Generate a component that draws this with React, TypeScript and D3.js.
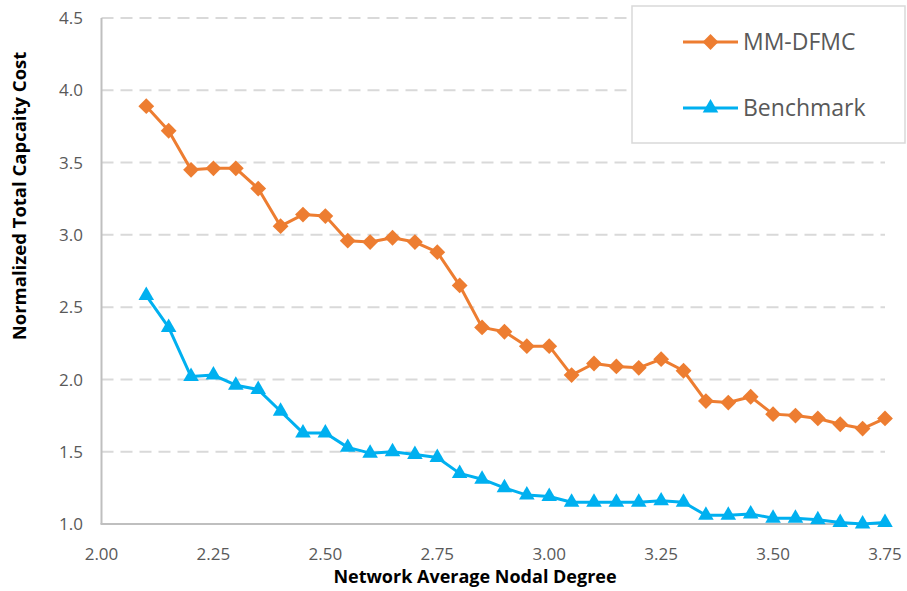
import React from 'react';
import * as d3 from 'd3';

const xValues = [2.10, 2.15, 2.20, 2.25, 2.30, 2.35, 2.40, 2.45, 2.50, 2.55, 2.60, 2.65, 2.70, 2.75, 2.80, 2.85, 2.90, 2.95, 3.00, 3.05, 3.10, 3.15, 3.20, 3.25, 3.30, 3.35, 3.40, 3.45, 3.50, 3.55, 3.60, 3.65, 3.70, 3.75];
const mmdfmc = [3.89, 3.72, 3.45, 3.46, 3.46, 3.32, 3.06, 3.14, 3.13, 2.96, 2.95, 2.98, 2.95, 2.88, 2.65, 2.36, 2.33, 2.23, 2.23, 2.03, 2.11, 2.09, 2.08, 2.14, 2.06, 1.85, 1.84, 1.88, 1.76, 1.75, 1.73, 1.69, 1.66, 1.73];
const benchmark = [2.58, 2.36, 2.02, 2.03, 1.96, 1.93, 1.78, 1.63, 1.63, 1.53, 1.49, 1.50, 1.48, 1.46, 1.35, 1.31, 1.25, 1.20, 1.19, 1.15, 1.15, 1.15, 1.15, 1.16, 1.15, 1.06, 1.06, 1.07, 1.04, 1.04, 1.03, 1.01, 1.00, 1.01];
const xTicks = [2.0, 2.25, 2.5, 2.75, 3.0, 3.25, 3.5, 3.75];
const yTicks = [1.0, 1.5, 2.0, 2.5, 3.0, 3.5, 4.0, 4.5];
const seriesNames = ['MM-DFMC', 'Benchmark'];
const xTitle = 'Network Average Nodal Degree';
const yTitle = 'Normalized Total Capcaity Cost';

const ORANGE = '#ED7D31';
const BLUE = '#00B0F0';
const FONT = '"Open Sans", sans-serif';

export default function App() {
  const W = 907, H = 591;
  const x = d3.scaleLinear().domain([2.0, 3.75]).range([101.5, 885]);
  const y = d3.scaleLinear().domain([1.0, 4.5]).range([524, 18]);

  const line = d3.line<number>().x((_, i) => x(xValues[i])).y((d) => y(d));
  const diamond = d3.symbol().type(d3.symbolSquare).size(125)();
  const triangle = d3.symbol().type(d3.symbolTriangle).size(105)();

  const legendX1 = 683, legendX2 = 738;
  const legendY = [42, 108];

  return (
    <svg width={W} height={H} style={{ position: 'absolute', left: 0, top: 0, background: '#fff' }} fontFamily={FONT}>
      {yTicks.filter((t) => t > 1.0).map((t) => (
        <line key={'g' + t} x1={x(2.0)} x2={x(3.75)} y1={y(t)} y2={y(t)} stroke="#d9d9d9" strokeWidth={2} strokeDasharray="12,7" />
      ))}
      <line x1={x(2.0)} x2={x(2.0)} y1={y(4.5)} y2={y(1.0)} stroke="#bfbfbf" strokeWidth={2} />
      <line x1={x(2.0) - 1} x2={x(3.75)} y1={y(1.0)} y2={y(1.0)} stroke="#bfbfbf" strokeWidth={2} />
      {yTicks.map((t) => (
        <text key={'y' + t} x={83} y={y(t)} dy="0.36em" textAnchor="end" fontSize={17} fill="#595959">{d3.format('.1f')(t)}</text>
      ))}
      {xTicks.map((t) => (
        <text key={'x' + t} x={x(t)} y={560} textAnchor="middle" fontSize={17} fill="#595959">{d3.format('.2f')(t)}</text>
      ))}
      <text x={475} y={583} textAnchor="middle" fontSize={18} fontWeight="bold" fill="#000">{xTitle}</text>
      <text transform={`translate(26,196) rotate(-90)`} textAnchor="middle" fontSize={18.5} fontWeight="bold" fill="#000">{yTitle}</text>
      <path d={line(mmdfmc) || ''} fill="none" stroke={ORANGE} strokeWidth={3} strokeLinejoin="round" />
      {mmdfmc.map((v, i) => (
        <path key={'m' + i} d={diamond || ''} transform={`translate(${x(xValues[i])},${y(v)}) rotate(45)`} fill={ORANGE} />
      ))}
      <path d={line(benchmark) || ''} fill="none" stroke={BLUE} strokeWidth={3} strokeLinejoin="round" />
      {benchmark.map((v, i) => (
        <path key={'b' + i} d={triangle || ''} transform={`translate(${x(xValues[i])},${y(v)})`} fill={BLUE} />
      ))}
      <rect x={632} y={6} width={273} height={137} fill="#fff" stroke="#d9d9d9" strokeWidth={1.5} />
      <line x1={legendX1} x2={legendX2} y1={legendY[0]} y2={legendY[0]} stroke={ORANGE} strokeWidth={3} />
      <path d={diamond || ''} transform={`translate(${(legendX1 + legendX2) / 2},${legendY[0]}) rotate(45)`} fill={ORANGE} />
      <text x={743} y={legendY[0]} dy="0.36em" fontSize={23} fill="#595959">{seriesNames[0]}</text>
      <line x1={legendX1} x2={legendX2} y1={legendY[1]} y2={legendY[1]} stroke={BLUE} strokeWidth={3} />
      <path d={triangle || ''} transform={`translate(${(legendX1 + legendX2) / 2},${legendY[1]})`} fill={BLUE} />
      <text x={743} y={legendY[1]} dy="0.36em" fontSize={23} fill="#595959">{seriesNames[1]}</text>
    </svg>
  );
}
